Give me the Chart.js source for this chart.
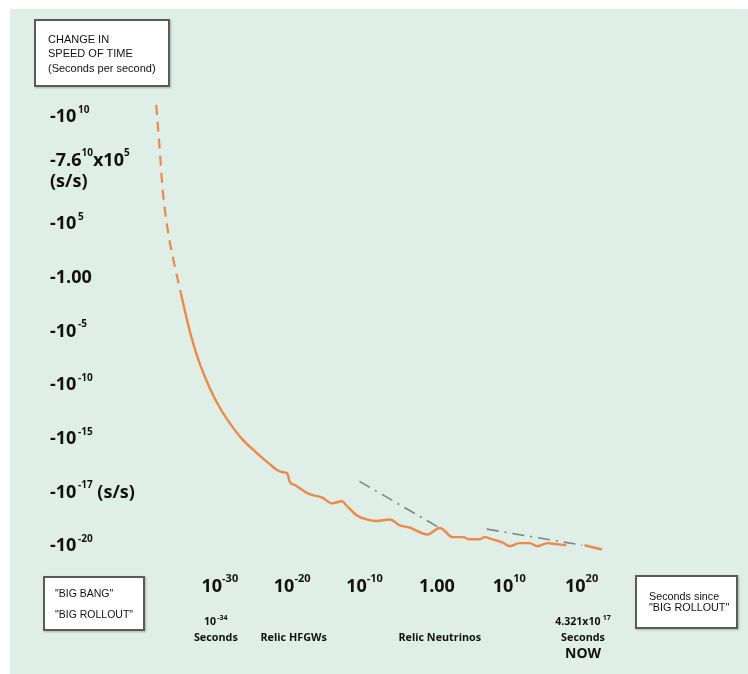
<!DOCTYPE html>
<html>
<head>
<meta charset="utf-8">
<script src="https://cdn.jsdelivr.net/npm/chart.js@4.4.1/dist/chart.umd.min.js"></script>
<style>
    body { margin: 0; background: #fff; }
    #wrap { position: relative; width: 748px; height: 674px; overflow: hidden; }
    #panel { position: absolute; left: 10px; top: 9px; right: 0; bottom: 0; background: #dfeee6; }
    canvas { position: absolute; left: 0; top: 0; }
    .box {
        position: absolute;
        background: #fff;
        border: 2px solid #5a5a5a;
        box-shadow: 1px 1px 2px rgba(0, 0, 0, 0.25);
        font-family: 'Liberation Sans', Arial, sans-serif;
        color: #111;
        box-sizing: border-box;
    }
    .box div { position: absolute; white-space: nowrap; }
</style>
</head>
<body>
<div id="wrap">
    <div id="panel"></div>
    <canvas id="speedChart" width="748" height="674"></canvas>

    <div class="box" style="left:34px; top:19px; width:136px; height:68px; font-size:11px;">
        <div style="left:12px; top:12px;">CHANGE IN</div>
        <div style="left:12px; top:26px;">SPEED OF TIME</div>
        <div style="left:12px; top:41px;">(Seconds per second)</div>
    </div>
    <div class="box" style="left:43px; top:576px; width:102px; height:55px; font-size:10.5px;">
        <div style="left:10px; top:9px;">"BIG BANG"</div>
        <div style="left:10px; top:30px;">"BIG ROLLOUT"</div>
    </div>
    <div class="box" style="left:635px; top:575px; width:103px; height:54px; font-size:10.8px; line-height:11px;">
        <div style="left:12px; top:14px;">Seconds since</div>
        <div style="left:12px; top:25px;">"BIG ROLLOUT"</div>
    </div>
</div>

<script>
// Eje X: exponente de los segundos desde el "Big Rollout" (log10 s)
// Eje Y: nivel de la escala (0 = -10^10 ... 8 = -10^-20)

// Tramo inicial (discontinuo)
const earlyTime = [-38.8, -38.3, -37.9, -37.2, -36.5, -35.8, -35.4];
const earlyRate = [-0.22, 0.62, 1.36, 2.11, 2.61, 3.04, 3.28];

// Tramo principal
const mainTime = [-35.4, -34.7, -33.9, -32.8, -31.4, -30.0, -28.6, -27.0, -25.0, -23.1,
    -22.1, -21.3, -20.7, -20.3, -19.6, -18.5, -17.6, -15.9,
    -14.5, -13.1, -12.5, -11.1, -9.7, -8.3, -6.5, -5.1, -3.8, -1.3,
    0.4, 2.2, 3.6, 4.5, 5.9, 6.6, 7.7, 9.1, 10.1, 11.4,
    12.8, 13.9, 15.3, 16.5, 17.9];
const mainRate = [3.28, 3.69, 4.12, 4.59, 5.05, 5.42, 5.71, 5.99, 6.25, 6.47,
    6.58, 6.62, 6.64, 6.81, 6.86, 6.96, 7.03, 7.09,
    7.20, 7.16, 7.24, 7.42, 7.50, 7.53, 7.50, 7.61, 7.65, 7.78,
    7.66, 7.83, 7.83, 7.87, 7.87, 7.83, 7.87, 7.93, 8.00, 7.94,
    7.94, 8.00, 7.94, 7.96, 7.98];

// Tramo final
const tailTime = [20.4, 22.8];
const tailRate = [7.98, 8.06];

// Líneas de tendencia (gris, punto y raya)
const trendATime = [-10.7, 0.4];
const trendARate = [6.79, 7.66];
const trendBTime = [6.9, 20.1];
const trendBRate = [7.68, 7.98];

// Etiquetas del eje X
const xTickValues = [-30, -20, -10, 0, 10, 20];
const xTickBase = ['10', '10', '10', '1.00', '10', '10'];
const xTickSup = ['-30', '-20', '-10', '', '10', '20'];

// Etiquetas del eje Y
const yTickLevels = [0, 1, 2, 3, 4, 5, 6, 7, 8];
const yTickBase = ['-10', '-7.6', '-10', '-1.00', '-10', '-10', '-10', '-10', '-10'];
const yTickSup = ['10', '10', '5', '', '-5', '-10', '-15', '-17', '-20'];
const yTickAfter = ['', 'x10', '', '', '', '', '', ' (s/s)', ''];
const yTickAfterSup = ['', '5', '', '', '', '', '', '', ''];

const toPoints = (xs, ys) => xs.map((x, i) => ({ x, y: ys[i] }));

const ORANGE = '#ec8a4a';
const GREY = '#7c8784';
const FONT = "'Open Sans', 'Noto Sans', sans-serif";

// Dibuja texto con superíndices: parts = [[texto, esSup], ...]
function drawRich(ctx, parts, x, y, align, baseSize, supSize, supRise) {
    const widths = parts.map(([t, sup]) => {
        ctx.font = 'bold ' + (sup ? supSize : baseSize) + 'px ' + FONT;
        return ctx.measureText(t).width;
    });
    const total = widths.reduce((a, b) => a + b, 0);
    let cx = align === 'center' ? x - total / 2 : x;
    ctx.textAlign = 'left';
    ctx.textBaseline = 'middle';
    parts.forEach(([t, sup], i) => {
        ctx.font = 'bold ' + (sup ? supSize : baseSize) + 'px ' + FONT;
        ctx.fillText(t, cx, sup ? y - supRise : y);
        cx += widths[i];
    });
}

const labelsPlugin = {
    id: 'labels',
    afterDraw(chart) {
        const ctx = chart.ctx;
        const xs = chart.scales.x;
        const ys = chart.scales.y;
        ctx.save();
        ctx.fillStyle = '#111';

        // Eje Y
        yTickLevels.forEach((lvl, i) => {
            let py = ys.getPixelForValue(lvl);
            const parts = [[yTickBase[i], false]];
            if (yTickSup[i]) parts.push([i === 1 ? yTickSup[i] : '\u2009' + yTickSup[i], true]);
            if (yTickAfter[i]) parts.push([yTickAfter[i], false]);
            if (yTickAfterSup[i]) parts.push([yTickAfterSup[i], true]);
            if (i === 1) {
                drawRich(ctx, parts, 50, py - 10, 'left', 18, 10, 7);
                drawRich(ctx, [['(s/s)', false]], 50, py + 11, 'left', 18, 10, 7);
            } else {
                drawRich(ctx, parts, 50, py, 'left', 18, 10, 7);
            }
        });

        // Eje X
        xTickValues.forEach((v, i) => {
            const px = xs.getPixelForValue(v);
            const parts = [[xTickBase[i], false]];
            if (xTickSup[i]) parts.push([xTickSup[i], true]);
            drawRich(ctx, parts, px, 587, 'center', 18, 11, 8);
        });

        // Notas bajo el eje X
        const px30 = xs.getPixelForValue(-30);
        drawRich(ctx, [['10', false], ['\u2009-34', true]], px30 - 4, 622, 'center', 10.5, 7, 4);
        drawRich(ctx, [['Seconds', false]], px30 - 4, 638, 'center', 10.8, 7, 4);
        drawRich(ctx, [['Relic HFGWs', false]], xs.getPixelForValue(-19.8), 638, 'center', 10.8, 7, 4);
        drawRich(ctx, [['Relic Neutrinos', false]], xs.getPixelForValue(0.4), 638, 'center', 10.8, 7, 4);
        const pxNow = xs.getPixelForValue(20.2);
        drawRich(ctx, [['4.321x10', false], ['\u2009\u200917', true]], pxNow, 622, 'center', 10.5, 7, 4);
        drawRich(ctx, [['Seconds', false]], pxNow, 638, 'center', 10.8, 7, 4);
        drawRich(ctx, [['NOW', false]], pxNow, 654, 'center', 14, 7, 4);
        ctx.restore();
    }
};

const canvas = document.getElementById('speedChart');

new Chart(canvas, {
    type: 'line',
    data: {
        datasets: [
            {
                data: toPoints(earlyTime, earlyRate),
                borderColor: ORANGE,
                borderWidth: 2.2,
                borderDash: [10, 7],
                cubicInterpolationMode: 'monotone'
            },
            {
                data: toPoints(mainTime, mainRate),
                borderColor: ORANGE,
                borderWidth: 2.4,
                cubicInterpolationMode: 'monotone'
            },
            {
                data: toPoints(tailTime, tailRate),
                borderColor: ORANGE,
                borderWidth: 2.4
            },
            {
                data: toPoints(trendATime, trendARate),
                borderColor: GREY,
                borderWidth: 1.6,
                borderDash: [12, 6, 2, 6]
            },
            {
                data: toPoints(trendBTime, trendBRate),
                borderColor: GREY,
                borderWidth: 1.6,
                borderDash: [12, 6, 2, 6]
            }
        ]
    },
    options: {
        responsive: false,
        animation: false,
        layout: {
            padding: { left: 133, right: 123, top: 63, bottom: 74 }
        },
        elements: {
            point: { radius: 0, hoverRadius: 0 }
        },
        scales: {
            x: { type: 'linear', min: -42, max: 26, display: false },
            y: { type: 'linear', min: -1, max: 9, reverse: true, display: false }
        },
        plugins: {
            legend: { display: false },
            tooltip: { enabled: false }
        }
    },
    plugins: [labelsPlugin]
});
</script>
</body>
</html>
